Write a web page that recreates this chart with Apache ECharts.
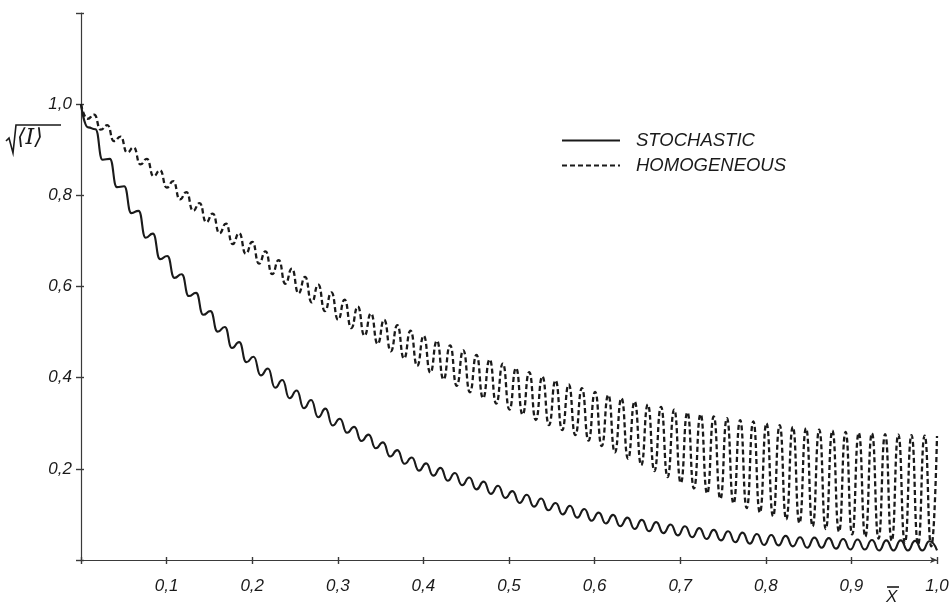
<!DOCTYPE html>
<html>
<head>
<meta charset="utf-8">
<title>Stochastic vs homogeneous</title>
<script src="https://cdn.jsdelivr.net/npm/echarts@6/dist/echarts.min.js"></script>
<style>
  html, body { margin: 0; padding: 0; background: #fff; }
  #chart { width: 952px; height: 608px; }
</style>
</head>
<body>
<div id="chart"></div>
<script>
// Axis ticks (comma decimal labels)
const xTicks = [0, 0.1, 0.2, 0.3, 0.4, 0.5, 0.6, 0.7, 0.8, 0.9, 1.0];
const xTickLabels = ['', '0,1', '0,2', '0,3', '0,4', '0,5', '0,6', '0,7', '0,8', '0,9', '1,0'];
const yTicks = [0, 0.2, 0.4, 0.6, 0.8, 1.0, 1.2];
const yTickLabels = ['', '0,2', '0,4', '0,6', '0,8', '1,0', ''];

// STOCHASTIC: successive maxima / minima of the oscillating curve
const stochX = [
  0, 0.0084, 0.0168, 0.0252, 0.0336, 0.042, 0.0504, 0.0588, 0.0672, 0.0756,
  0.084, 0.0924, 0.1008, 0.1092, 0.1176, 0.126, 0.1344, 0.1428, 0.1512, 0.1596,
  0.168, 0.1764, 0.1848, 0.1932, 0.2016, 0.21, 0.2184, 0.2268, 0.2352, 0.2436,
  0.252, 0.2604, 0.2688, 0.2772, 0.2856, 0.294, 0.3024, 0.3108, 0.3192, 0.3276,
  0.336, 0.3444, 0.3528, 0.3612, 0.3696, 0.378, 0.3864, 0.3948, 0.4032, 0.4116,
  0.42, 0.4284, 0.4368, 0.4452, 0.4536, 0.462, 0.4704, 0.4788, 0.4872, 0.4956,
  0.504, 0.5124, 0.5208, 0.5292, 0.5376, 0.546, 0.5544, 0.5628, 0.5712, 0.5796,
  0.588, 0.5964, 0.6048, 0.6132, 0.6216, 0.63, 0.6384, 0.6468, 0.6552, 0.6636,
  0.672, 0.6804, 0.6888, 0.6972, 0.7056, 0.714, 0.7224, 0.7308, 0.7392, 0.7476,
  0.756, 0.7644, 0.7728, 0.7812, 0.7896, 0.798, 0.8064, 0.8148, 0.8232, 0.8316,
  0.84, 0.8484, 0.8568, 0.8652, 0.8736, 0.882, 0.8904, 0.8988, 0.9072, 0.9156,
  0.924, 0.9324, 0.9408, 0.9492, 0.9576, 0.966, 0.9744, 0.9828, 0.9912, 1.0
];
const stochY = [
  1.000, 0.949, 0.945, 0.878, 0.880, 0.818, 0.820, 0.761, 0.766, 0.707,
  0.716, 0.660, 0.667, 0.619, 0.627, 0.579, 0.586, 0.538, 0.546, 0.501,
  0.511, 0.465, 0.478, 0.434, 0.446, 0.405, 0.420, 0.378, 0.395, 0.355,
  0.372, 0.333, 0.351, 0.313, 0.332, 0.295, 0.310, 0.279, 0.292, 0.261,
  0.275, 0.245, 0.258, 0.227, 0.241, 0.211, 0.225, 0.196, 0.212, 0.185,
  0.202, 0.174, 0.191, 0.164, 0.181, 0.155, 0.172, 0.145, 0.163, 0.136,
  0.151, 0.125, 0.143, 0.117, 0.135, 0.109, 0.125, 0.100, 0.119, 0.093,
  0.112, 0.086, 0.104, 0.080, 0.099, 0.074, 0.093, 0.068, 0.088, 0.063,
  0.083, 0.059, 0.078, 0.054, 0.074, 0.050, 0.070, 0.046, 0.066, 0.043,
  0.063, 0.039, 0.060, 0.036, 0.057, 0.033, 0.055, 0.032, 0.053, 0.030,
  0.050, 0.027, 0.049, 0.027, 0.048, 0.025, 0.046, 0.023, 0.045, 0.023,
  0.044, 0.021, 0.043, 0.021, 0.043, 0.021, 0.042, 0.021, 0.041, 0.021
];

// HOMOGENEOUS: successive maxima / minima of the oscillating curve
const homX = [
  0, 0.0077, 0.0154, 0.0231, 0.0308, 0.0385, 0.0462, 0.0539, 0.0616, 0.0693,
  0.077, 0.0847, 0.0924, 0.1001, 0.1078, 0.1155, 0.1232, 0.1309, 0.1386, 0.1463,
  0.154, 0.1617, 0.1694, 0.1771, 0.1848, 0.1925, 0.2002, 0.2079, 0.2156, 0.2233,
  0.231, 0.2387, 0.2464, 0.2541, 0.2618, 0.2695, 0.2772, 0.2849, 0.2926, 0.3003,
  0.308, 0.3157, 0.3234, 0.3311, 0.3388, 0.3465, 0.3542, 0.3619, 0.3696, 0.3773,
  0.385, 0.3927, 0.4004, 0.4081, 0.4158, 0.4235, 0.4312, 0.4389, 0.4466, 0.4543,
  0.462, 0.4697, 0.4774, 0.4851, 0.4928, 0.5005, 0.5082, 0.5159, 0.5236, 0.5313,
  0.539, 0.5467, 0.5544, 0.5621, 0.5698, 0.5775, 0.5852, 0.5929, 0.6006, 0.6083,
  0.616, 0.6237, 0.6314, 0.6391, 0.6468, 0.6545, 0.6622, 0.6699, 0.6776, 0.6853,
  0.693, 0.7007, 0.7084, 0.7161, 0.7238, 0.7315, 0.7392, 0.7469, 0.7546, 0.7623,
  0.77, 0.7777, 0.7854, 0.7931, 0.8008, 0.8085, 0.8162, 0.8239, 0.8316, 0.8393,
  0.847, 0.8547, 0.8624, 0.8701, 0.8778, 0.8855, 0.8932, 0.9009, 0.9086, 0.9163,
  0.924, 0.9317, 0.9394, 0.9471, 0.9548, 0.9625, 0.9702, 0.9779, 0.9856, 0.9933,
  1.0
];
const homY = [
  1.000, 0.968, 0.977, 0.944, 0.954, 0.919, 0.929, 0.894, 0.905, 0.868,
  0.880, 0.842, 0.855, 0.817, 0.831, 0.791, 0.807, 0.766, 0.783, 0.741,
  0.760, 0.717, 0.738, 0.693, 0.717, 0.672, 0.698, 0.650, 0.677, 0.627,
  0.658, 0.606, 0.639, 0.585, 0.621, 0.565, 0.604, 0.546, 0.587, 0.527,
  0.571, 0.509, 0.556, 0.492, 0.541, 0.474, 0.527, 0.458, 0.515, 0.442,
  0.503, 0.426, 0.492, 0.411, 0.481, 0.396, 0.471, 0.382, 0.460, 0.368,
  0.450, 0.355, 0.440, 0.343, 0.431, 0.330, 0.421, 0.319, 0.412, 0.307,
  0.403, 0.296, 0.394, 0.285, 0.385, 0.274, 0.377, 0.262, 0.369, 0.250,
  0.362, 0.236, 0.355, 0.222, 0.348, 0.208, 0.341, 0.195, 0.336, 0.182,
  0.330, 0.169, 0.324, 0.157, 0.320, 0.146, 0.315, 0.134, 0.311, 0.124,
  0.307, 0.114, 0.304, 0.104, 0.300, 0.096, 0.296, 0.089, 0.292, 0.081,
  0.289, 0.074, 0.286, 0.068, 0.284, 0.062, 0.281, 0.056, 0.279, 0.051,
  0.278, 0.047, 0.276, 0.042, 0.275, 0.038, 0.274, 0.034, 0.273, 0.030,
  0.272
];

const seriesNames = ['STOCHASTIC', 'HOMOGENEOUS'];

const FONT = "'Liberation Sans', Arial, sans-serif";
const INK = '#1a1a1a';
const AXIS = '#3a3a3a';

const pairs = (xs, ys) => xs.map((x, i) => [x, ys[i]]);

function labelFor(ticks, labels) {
  return v => {
    const i = ticks.findIndex(t => Math.abs(t - v) < 1e-9);
    return i >= 0 ? labels[i] : '';
  };
}

const chart = echarts.init(document.getElementById('chart'), null, { renderer: 'canvas' });

const xBase = { type: 'value', min: 0, max: 1, interval: 0.1, position: 'bottom', splitLine: { show: false } };
const yBase = { type: 'value', min: 0, max: 1.2, interval: 0.2, position: 'left', splitLine: { show: false } };

chart.setOption({
  animation: false,
  backgroundColor: '#ffffff',
  grid: { left: 81, right: 15, top: 13, bottom: 48, containLabel: false },
  legend: {
    data: seriesNames,
    orient: 'vertical',
    left: 561,
    top: 131,
    itemWidth: 58,
    itemHeight: 14,
    itemGap: 6,
    padding: 0,
    itemStyle: { opacity: 0 },
    textStyle: {
      fontFamily: FONT, fontStyle: 'italic', fontSize: 18.5, color: INK,
      padding: [0, 0, 0, 11]
    }
  },
  xAxis: [
    Object.assign({}, xBase, {
      axisLine: { show: true, lineStyle: { color: AXIS, width: 1.2 }, symbol: ['none', 'arrow'], symbolSize: [5, 7] },
      axisTick: { show: true, length: 4, lineStyle: { color: AXIS, width: 1.4 } },
      axisLabel: {
        show: true, margin: 18, fontFamily: FONT, fontStyle: 'italic', fontSize: 17, color: INK,
        formatter: labelFor(xTicks, xTickLabels)
      }
    }),
    Object.assign({}, xBase, {
      axisLine: { show: false },
      axisTick: { show: true, inside: true, length: 3, lineStyle: { color: AXIS, width: 1.4 } },
      axisLabel: { show: false }
    })
  ],
  yAxis: [
    Object.assign({}, yBase, {
      axisLine: { show: true, lineStyle: { color: AXIS, width: 1.2 } },
      axisTick: { show: true, length: 5, lineStyle: { color: AXIS, width: 1.4 } },
      axisLabel: {
        show: true, margin: 9, fontFamily: FONT, fontStyle: 'italic', fontSize: 17, color: INK,
        formatter: labelFor(yTicks, yTickLabels)
      }
    }),
    Object.assign({}, yBase, {
      axisLine: { show: false },
      axisTick: { show: true, inside: true, length: 3, lineStyle: { color: AXIS, width: 1.4 } },
      axisLabel: { show: false }
    })
  ],
  series: [
    {
      name: seriesNames[0],
      type: 'line',
      xAxisIndex: 0, yAxisIndex: 0,
      data: pairs(stochX, stochY),
      showSymbol: false, symbol: 'none',
      smooth: 0.55, smoothMonotone: 'x',
      lineStyle: { color: INK, width: 2.1, type: 'solid' },
      itemStyle: { color: INK },
      z: 3
    },
    {
      name: seriesNames[1],
      type: 'line',
      xAxisIndex: 0, yAxisIndex: 0,
      data: pairs(homX, homY),
      showSymbol: false, symbol: 'none',
      smooth: 0.55, smoothMonotone: 'x',
      lineStyle: { color: INK, width: 2.3, type: [5, 3] },
      itemStyle: { color: INK },
      z: 3
    }
  ],
  graphic: [
    // y-axis title: square root of <I>
    {
      type: 'polyline',
      shape: { points: [[6, 141], [9, 138], [13, 153], [16, 125], [61, 125]] },
      style: { stroke: INK, lineWidth: 1.6, fill: null }
    },
    {
      type: 'text',
      left: 17, top: 127,
      style: {
        text: '\u27E8I\u27E9',
        font: "italic 22px 'DejaVu Serif', serif",
        fill: INK
      }
    },
    // x-axis title: x with overbar
    {
      type: 'line',
      shape: { x1: 887, y1: 587, x2: 899, y2: 587 },
      style: { stroke: INK, lineWidth: 1.6 }
    },
    {
      type: 'text',
      left: 886, top: 589,
      style: {
        text: 'X',
        font: "italic 17px 'Liberation Sans', Arial, sans-serif",
        fill: INK
      }
    }
  ]
});
</script>
</body>
</html>
